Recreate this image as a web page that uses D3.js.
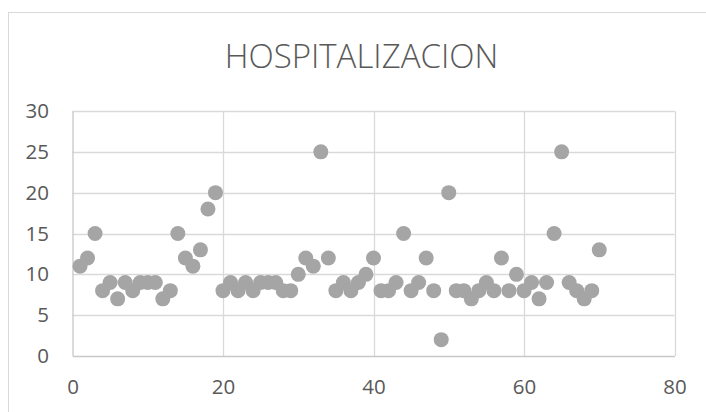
<!DOCTYPE html>
<html>
<head>
<meta charset="utf-8">
<script src="https://cdn.jsdelivr.net/npm/d3@7"></script>
<style>
  html, body { margin: 0; padding: 0; background: #fff; }
  svg { display: block; }
</style>
</head>
<body>
<svg id="chart" width="706" height="412"></svg>
<script>
// Daily hospitalisation counts (day number -> patients)
const days = [
  1, 2, 3, 4, 5, 6, 7, 8, 9, 10,
  11, 12, 13, 14, 15, 16, 17, 18, 19, 20,
  21, 22, 23, 24, 25, 26, 27, 28, 29, 30,
  31, 32, 33, 34, 35, 36, 37, 38, 39, 40,
  41, 42, 43, 44, 45, 46, 47, 48, 49, 50,
  51, 52, 53, 54, 55, 56, 57, 58, 59, 60,
  61, 62, 63, 64, 65, 66, 67, 68, 69, 70
];
const patients = [
  11, 12, 15, 8, 9, 7, 9, 8, 9, 9,
  9, 7, 8, 15, 12, 11, 13, 18, 20, 8,
  9, 8, 9, 8, 9, 9, 9, 8, 8, 10,
  12, 11, 25, 12, 8, 9, 8, 9, 10, 12,
  8, 8, 9, 15, 8, 9, 12, 8, 2, 20,
  8, 8, 7, 8, 9, 8, 12, 8, 10, 8,
  9, 7, 9, 15, 25, 9, 8, 7, 8, 13
];
const xTicks = [0, 20, 40, 60, 80];
const yTicks = [0, 5, 10, 15, 20, 25, 30];
const title = "HOSPITALIZACION";

const svg = d3.select("#chart");
const font = "'Open Sans', 'Liberation Sans', sans-serif";
const textColor = "#595959";

// outer chart frame (runs off the right and bottom edges)
svg.append("rect")
  .attr("x", 8.5).attr("y", 12.5)
  .attr("width", 720).attr("height", 420)
  .attr("fill", "#fff")
  .attr("stroke", "#D9D9D9").attr("stroke-width", 1);

const plot = { left: 72.5, right: 674.5, top: 111, bottom: 356 };

const x = d3.scaleLinear().domain([0, 80]).range([plot.left, plot.right]);
const y = d3.scaleLinear().domain([0, 30]).range([plot.bottom, plot.top]);

// title
svg.append("text")
  .attr("x", 361.5).attr("y", 67.5)
  .attr("text-anchor", "middle")
  .attr("font-family", font)
  .attr("font-weight", 300)
  .attr("font-size", 33)
  .attr("fill", textColor)
  .text(title);

// gridlines
const grid = svg.append("g");
grid.selectAll("line.h")
  .data(yTicks.filter(d => d > 0))
  .join("line")
  .attr("x1", plot.left).attr("x2", plot.right)
  .attr("y1", d => Math.round(y(d)) + 0.5).attr("y2", d => Math.round(y(d)) + 0.5)
  .attr("stroke", "#D9D9D9").attr("stroke-width", 1.3);
grid.selectAll("line.v")
  .data(xTicks.filter(d => d > 0))
  .join("line")
  .attr("y1", plot.top).attr("y2", plot.bottom)
  .attr("x1", d => Math.round(x(d)) + 0.5).attr("x2", d => Math.round(x(d)) + 0.5)
  .attr("stroke", "#D9D9D9").attr("stroke-width", 1.3);

// axes
const xAxis = d3.axisBottom(x).tickValues(xTicks).tickSize(0).tickPadding(23);
const yAxis = d3.axisLeft(y).tickValues(yTicks).tickSize(0).tickPadding(23.5);

const gx = svg.append("g")
  .attr("transform", `translate(0,${plot.bottom})`)
  .call(xAxis);
const gy = svg.append("g")
  .attr("transform", `translate(${plot.left},0)`)
  .call(yAxis);

[gx, gy].forEach(g => {
  g.select(".domain").attr("stroke", "#C8C8C8").attr("stroke-width", 1.3);
  g.selectAll("text")
    .attr("font-family", font)
    .attr("font-size", 20.5)
    .attr("fill", textColor);
});

// markers
svg.append("g")
  .selectAll("circle")
  .data(days.map((d, i) => ({ day: d, value: patients[i] })))
  .join("circle")
  .attr("cx", d => x(d.day))
  .attr("cy", d => y(d.value))
  .attr("r", 7.5)
  .attr("fill", "#A5A5A5");
</script>
</body>
</html>
